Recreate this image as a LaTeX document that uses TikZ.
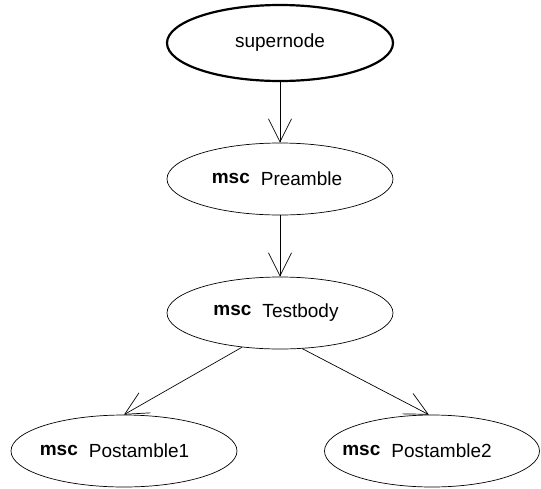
\documentclass[tikz,border=0pt]{standalone}
\usepackage{fontspec}
\setmainfont{Liberation Sans}
\usetikzlibrary{positioning, shapes, arrows.meta}

\newcommand{\msclabel}[2][0pt]{\makebox[0pt]{\raisebox{2pt}{\bfseries msc}\hspace{11pt}#2\hspace{#1}}}

\begin{document}
\begin{tikzpicture}[x=1pt, y=1pt, on grid, auto,
    font=\fontsize{19}{21}\selectfont,
    state/.style={draw, ellipse, line width=0.7pt, inner sep=0pt, minimum width=226pt, minimum height=72pt},
    arrow/.style={-{Straight Barb[length=23pt, width=23pt]}, line width=0.7pt}]

    \useasboundingbox (0,0) rectangle (541,-488);

    % Nodes
    \node[state, line width=2.2pt, minimum height=76pt] (super) at (280,-43) {supernode};
    \node[state, below=136pt of super] (pre) {\msclabel[6pt]{Preamble}};
    \node[state, below=134pt of pre] (body) {\msclabel[8pt]{Testbody}};
    \node[state, below left=138pt and 156pt of body] (post1) {\msclabel[19pt]{Postamble1}};
    \node[state, minimum width=215pt, below right=138pt and 152pt of body] (post2) {\msclabel[30pt]{Postamble2}};

    % Arrows
    \draw[arrow] (super) -- (pre);
    \draw[arrow] (pre) -- (body);
    \draw[arrow] (body.222) -- (post1.north);
    \draw[arrow] (body.302) -- (post2.95);
\end{tikzpicture}
\end{document}
